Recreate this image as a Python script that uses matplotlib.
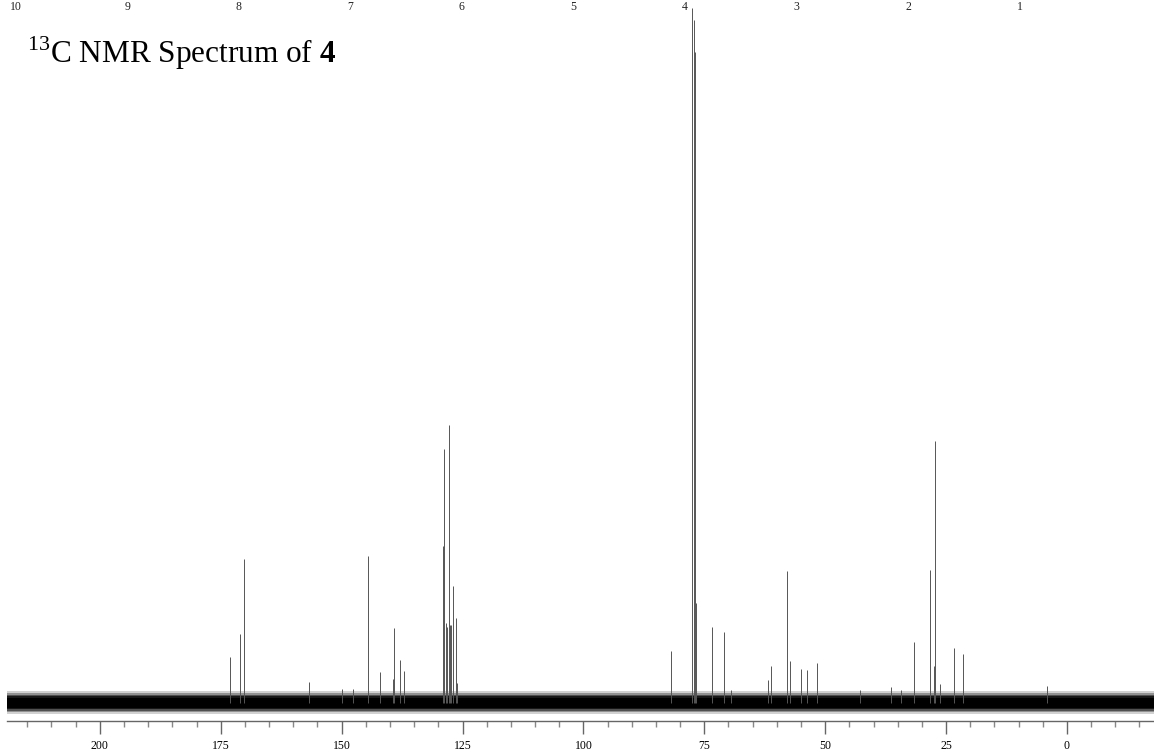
import matplotlib
matplotlib.use("Agg")
import matplotlib.pyplot as plt
import numpy as np

plt.rcParams['font.family'] = ['Liberation Serif', 'DejaVu Serif']
plt.rcParams['mathtext.fontset'] = 'custom'
plt.rcParams['mathtext.rm'] = 'Liberation Serif'
plt.rcParams['mathtext.bf'] = 'Liberation Serif:bold'

# 13C peak positions (ppm) and heights (arbitrary intensity units)
peak_ppm = [173.17, 170.98, 170.15, 156.71, 149.9, 147.6, 144.5, 142.15,
            139.13, 139.34, 137.89, 137.19, 129.0, 128.8, 128.37, 128.16,
            127.81, 127.6, 127.4, 126.93, 126.37, 126.2, 81.9, 77.5, 77.21,
            76.94, 76.8, 73.49, 70.88, 69.43, 61.78, 61.16, 57.91, 57.23,
            54.95, 53.82, 51.6, 42.75, 36.34, 34.33, 31.58, 28.27, 27.24,
            27.45, 26.27, 23.43, 21.45, 4.2]
peak_int = [45.7, 68.7, 144.3, 21.3, 14, 14, 147, 31,
            74.7, 24, 43, 32, 157, 254, 80, 76,
            278, 78, 78, 117, 85, 20, 52, 695, 683,
            651, 100, 75.7, 70.7, 13, 23, 36.7, 132, 42,
            33.7, 33, 40, 13, 16, 13, 61, 133, 262,
            37, 19, 55.3, 49.3, 17]

# baseline noise envelope (lower, upper, opacity) from outer to inner
noise_lo = [-11.0, -9.0, -7.5, -6.0, -4.5]
noise_hi = [12.0, 10.0, 8.5, 7.0, 5.5]
noise_alpha = [0.18, 0.3, 0.45, 0.7, 1.0]

# axis ticks
major_ticks = [200, 175, 150, 125, 100, 75, 50, 25, 0]
minor_ticks = list(range(-15, 220, 5))
h_labels = [10, 9, 8, 7, 6, 5, 4, 3, 2, 1]

title_text = r"$^{13}$C NMR Spectrum of $\mathbf{4}$"

W, H = 1154, 754
fig = plt.figure(figsize=(W / 100, H / 100), dpi=100)
ax = fig.add_axes([7 / W, (H - 721) / H, 1147 / W, 721 / H])

xmin, xmax = 219.2, -18.0
ax.set_xlim(xmin, xmax)
ax.set_ylim(-18, 703)

xs = np.array([xmin, xmax])
for lo, hi, a in zip(noise_lo, noise_hi, noise_alpha):
    ax.fill_between(xs, lo, hi, color='#000000', lw=0, alpha=a)

ax.vlines(peak_ppm, 0, peak_int, colors='#555555', linewidth=0.7)

for s in ['top', 'left', 'right']:
    ax.spines[s].set_visible(False)
ax.spines['bottom'].set_color('#666666')
ax.spines['bottom'].set_linewidth(1.0)
ax.set_yticks([])
ax.set_xticks(major_ticks)
ax.set_xticklabels([str(t) for t in major_ticks])
ax.set_xticks(minor_ticks, minor=True)
ax.tick_params(axis='x', which='major', direction='out', length=9.4, width=1.0,
               color='#666666', labelsize=8.5, pad=4)
ax.tick_params(axis='x', which='minor', direction='out', length=4.3, width=1.0,
               color='#888888')

# 1H scale labels along the top
trans = ax.get_xaxis_transform()
for hv in h_labels:
    cpos = 23.06 * hv - 13.24
    ax.text(cpos, 1 - 7 / 721, str(hv), transform=trans, ha='center', va='center',
            fontsize=8.5, color='#222222')

fig.text(27 / W, 1 - 63 / H, title_text, fontsize=22.5, ha='left', va='baseline')

fig.savefig("out.png", dpi=100)
